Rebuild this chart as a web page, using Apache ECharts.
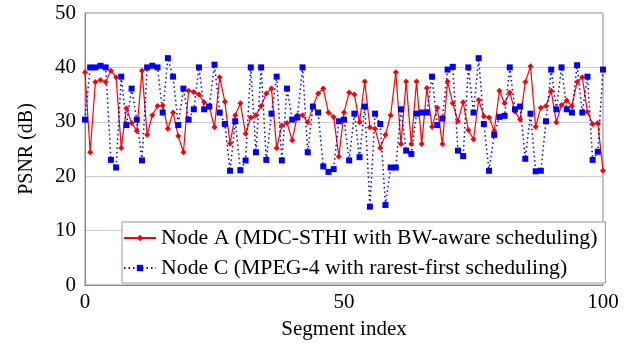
<!DOCTYPE html>
<html><head><meta charset="utf-8">
<script src="https://cdn.jsdelivr.net/npm/echarts@6/dist/echarts.min.js"></script>
<style>html,body{margin:0;padding:0;background:#fff}#c{width:632px;height:347px}</style>
</head><body><div id="c"></div>
<script>
const segments = Array.from({length:101},(_,i)=>i);
const nodeA = [39.1,24.4,37.3,37.7,37.3,39.4,38.2,25.2,32.5,29.8,
28.3,39.4,27.6,31.2,32.9,33.0,28.7,31.7,27.4,24.4,
35.7,35.5,35.0,33.6,32.8,29.0,38.2,33.7,26.0,31.2,
33.4,27.8,30.8,31.2,32.9,35.2,36.1,25.2,29.3,29.8,
26.6,31.2,31.2,29.9,32.8,35.2,36.1,31.7,30.9,23.6,
31.7,35.4,35.0,29.9,37.4,29.0,28.7,25.2,27.6,31.2,
39.1,25.9,37.4,25.9,37.4,25.9,36.2,29.1,32.6,25.9,
37.4,33.4,30.1,33.6,28.5,26.8,34.0,31.0,30.8,28.3,
35.7,33.4,35.4,31.9,30.4,37.3,40.2,29.1,32.6,32.9,
35.7,29.9,33.1,33.9,32.9,37.3,38.2,31.8,29.6,29.8,21.0];
const nodeC = [30.4,40.0,40.0,40.3,40.0,23.0,21.6,38.3,29.4,36.1,
30.4,22.9,40.0,40.3,40.0,31.7,41.7,38.3,29.4,36.1,
30.4,32.3,40.0,32.3,32.8,40.5,31.7,29.6,21.0,30.1,
21.1,22.9,40.0,24.4,40.0,23.0,31.5,38.3,22.9,36.1,
30.4,30.8,40.0,24.4,32.8,31.7,21.8,20.8,21.3,30.1,
30.4,22.9,31.5,23.5,32.8,14.4,31.5,29.6,14.7,21.6,
21.6,32.3,24.7,24.1,31.5,31.7,31.7,38.3,29.4,30.6,
39.6,40.1,24.7,23.7,40.0,31.7,41.7,29.6,21.0,27.6,
30.9,31.1,40.0,32.3,32.8,23.2,31.5,20.9,21.0,30.1,
39.6,32.3,40.0,32.3,31.7,40.4,31.7,38.3,23.0,24.5,39.6];
const seriesNames = ['Node A (MDC-STHI with BW-aware scheduling)','Node C (MPEG-4 with rarest-first scheduling)'];
const xTicks = [0,50,100];
const yTicks = [0,10,20,30,40,50];

const font = 'Liberation Serif';
const chart = echarts.init(document.getElementById('c'));
chart.setOption({
  animation:false,
  textStyle:{fontFamily:font,color:'#000'},
  grid:{left:85,right:29,top:13,bottom:62,show:true,borderColor:'#888',borderWidth:1},
  xAxis:{type:'value',min:xTicks[0],max:xTicks[2],interval:50,
    name:'Segment index',nameLocation:'middle',nameGap:34,
    nameTextStyle:{fontFamily:font,fontSize:21,color:'#000'},
    axisLine:{lineStyle:{color:'#888'}},axisTick:{show:false},
    axisLabel:{fontFamily:font,fontSize:21,color:'#000',margin:7},
    splitLine:{show:false}},
  yAxis:{type:'value',min:yTicks[0],max:yTicks[5],interval:10,
    name:'PSNR (dB)',nameLocation:'middle',nameGap:48,
    nameTextStyle:{fontFamily:font,fontSize:20,color:'#000'},
    axisLine:{show:true,lineStyle:{color:'#888'}},axisTick:{show:false},
    axisLabel:{fontFamily:font,fontSize:21,color:'#000',margin:9},
    splitLine:{show:true,lineStyle:{color:'#cccccc'}}},
  legend:{orient:'vertical',left:122,top:222,itemWidth:32,itemHeight:8,itemGap:8,
    backgroundColor:'#fff',borderColor:'#999',borderWidth:1,padding:[5,8,4,1],
    textStyle:{fontFamily:font,fontSize:21.8,color:'#000'},
    data:seriesNames},
  series:[
    {name:seriesNames[0],type:'line',data:segments.map((s,i)=>[s,nodeA[i]]),
     symbol:'diamond',symbolSize:6,itemStyle:{color:'#ff0000'},
     lineStyle:{color:'#ff0000',width:1.2}},
    {name:seriesNames[1],type:'line',data:segments.map((s,i)=>[s,nodeC[i]]),
     symbol:'rect',symbolSize:6,itemStyle:{color:'#0000ff'},
     lineStyle:{color:'#0000ff',width:1.5,type:[1.5,3]}}
  ]
});
</script></body></html>
